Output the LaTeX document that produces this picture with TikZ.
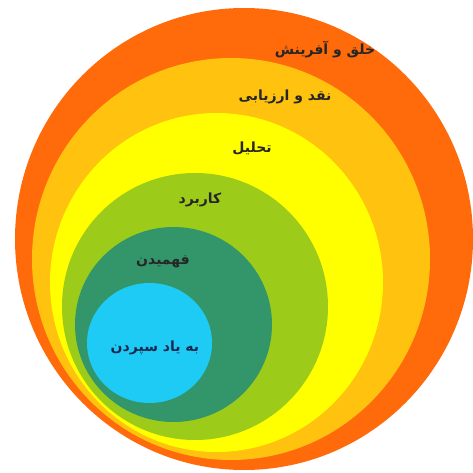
\documentclass[tikz,border=0pt]{standalone}
\usepackage{fontspec}
\TeXXeTstate=1
\newfontfamily\arabicfont[Script=Arabic]{DejaVu Sans}
\definecolor{cOrange}{HTML}{FF6A0A}
\definecolor{cAmber}{HTML}{FFC20E}
\definecolor{cYellow}{HTML}{FFFF00}
\definecolor{cGreen}{HTML}{9CCB19}
\definecolor{cTeal}{HTML}{33966A}
\definecolor{cBlue}{HTML}{1ECBF5}
\definecolor{cNavy}{HTML}{1A2A50}
\tikzset{
  lab/.style={inner sep=0pt, font=\arabicfont\bfseries\fontsize{14}{16}\selectfont, text=black!85},
}
\begin{document}
\begin{tikzpicture}[x=1pt,y=-1pt]
\useasboundingbox (0,0) rectangle (472,473);
\fill[white] (0,0) rectangle (472,473);
\fill[cOrange] (244,239) ellipse [x radius=229pt, y radius=231pt];
\fill[cAmber] (231,259) ellipse [x radius=199pt, y radius=201pt];
\fill[cYellow] (216.5,282.5) ellipse [x radius=166.5pt, y radius=169.5pt];
\fill[cGreen] (195,306.5) ellipse [x radius=133pt, y radius=133.5pt];
\fill[cTeal] (173.5,324.5) ellipse [x radius=98.5pt, y radius=97.5pt];
\fill[cBlue] (149.5,343) ellipse [x radius=62.5pt, y radius=60pt];
\node[lab] (t1) at (325,50) {\beginR خلق و آفرینش\endR};
\node[lab] (t2) at (285,97) {\beginR نقد و ارزیابی\endR};
\node[lab] (t3) at (252,148) {\beginR تحلیل\endR};
\node[lab] (t4) at (200,200) {\beginR کاربرد\endR};
\node[lab] (t5) at (163,262) {\beginR فهمیدن\endR};
\node[lab, text=cNavy] (t6) at (155,348) {\beginR به یاد سپردن\endR};
\end{tikzpicture}
\end{document}
